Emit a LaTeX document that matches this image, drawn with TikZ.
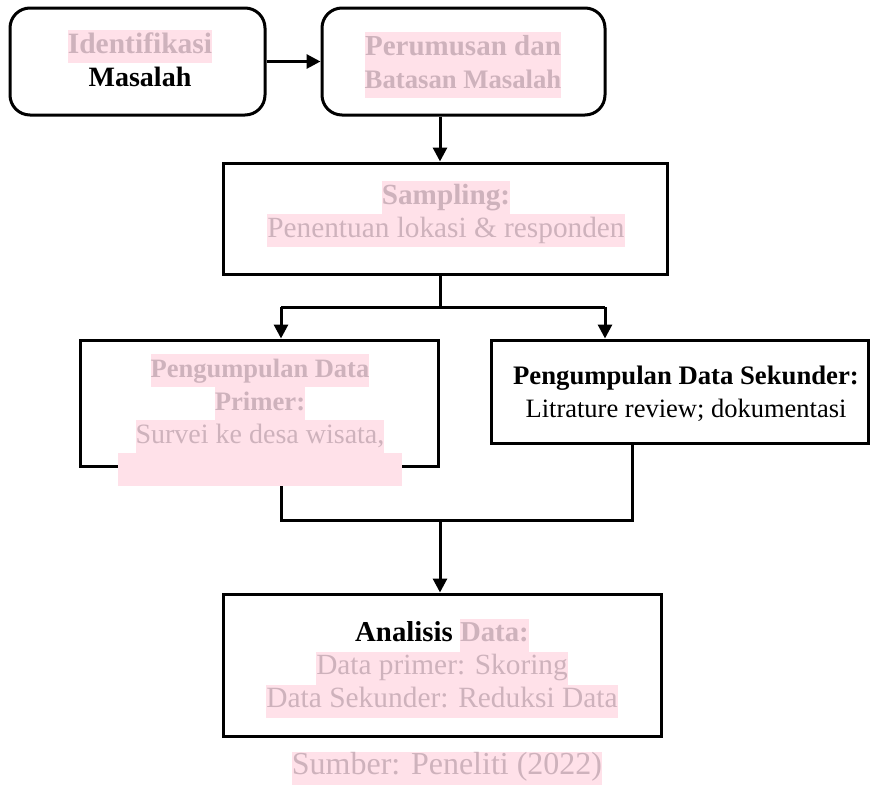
\documentclass[tikz,border=0pt]{standalone}
\usepackage{fontspec}
\setmainfont{Liberation Serif}
\usetikzlibrary{arrows.meta}
\definecolor{hlpink}{RGB}{255,225,233}
\definecolor{hltext}{RGB}{206,178,188}
\newcommand\hlx[1]{\begingroup\setlength{\fboxsep}{0pt}\colorbox{hlpink}{\color{hltext}\strut#1}\endgroup}
\newcommand\fsz[1]{\fontsize{#1}{33}\selectfont}
\tikzset{
  box/.style={draw, line width=3pt, inner sep=0pt},
  rbox/.style={box, rounded corners=20pt},
  lbl/.style={align=center, inner sep=0pt, font=\fontsize{26.7}{33}\selectfont},
  conn/.style={line width=3pt},
  arr/.style={conn, -{Triangle[width=14pt,length=14pt]}}
}
\begin{document}
\begin{tikzpicture}[x=1pt,y=-1pt]
\useasboundingbox (0,0) rectangle (871,785);
% boxes
\node[rbox, minimum width=255pt, minimum height=107pt] (b1) at (137.5,61.5) {};
\node[rbox, minimum width=283pt, minimum height=107pt] (b2) at (463.5,61.5) {};
\node[box, minimum width=444pt, minimum height=111pt] (b3) at (445,218.5) {};
\node[box, minimum width=358pt, minimum height=126pt] (b4) at (259,403) {};
\node[box, minimum width=377pt, minimum height=103pt] (b5) at (679.5,391.5) {};
\node[box, minimum width=438pt, minimum height=142pt] (b6) at (442,665) {};
% junction coordinates
\coordinate (a2) at (440,0);
\coordinate (j1) at (440,307);
\coordinate (jl) at (281,307);
\coordinate (jr) at (605,307);
\coordinate (kl) at (281,520);
\coordinate (kr) at (632,520);
\coordinate (k) at (440,520);
% connectors
\draw[arr] (b1.east) -- (b2.west);
\draw[arr] (b2.south -| a2) -- (b3.north -| a2);
\draw[conn] (b3.south -| j1) -- (j1);
\draw[conn] (jl) -- (jr);
\draw[arr] (jl) -- (b4.north -| jl);
\draw[arr] (jr) -- (b5.north -| jr);
\draw[conn] (b4.south -| kl) -- (kl) -- (kr) -- (b5.south -| kr);
\draw[arr] (k) -- (b6.north -| k);
% texts
\node[lbl] (t1) at (140,63) {\fsz{29.5}\hlx{\textbf{Identifikasi}}\\ \fsz{28}\strut\textbf{Masalah}};
\node[lbl] (t2) at (463,65) {\fsz{29}\hlx{\textbf{Perumusan dan}}\\ \hlx{\textbf{Batasan Masalah}}};
\node[lbl] (t3) at (446,214) {\fsz{29.2}\hlx{\textbf{Sampling:}}\\ \fsz{29.3}\hlx{Penentuan lokasi \& responden}};
\node[lbl] (t4) at (260,420) {\fsz{26.5}\hlx{\textbf{Pengumpulan Data}}\\ \hlx{\textbf{Primer:}}\\ \fsz{28}\hlx{Survei ke desa wisata,}\\ \hlx{\hspace{285pt}}};
\node[lbl] (t5) at (686,394) {\strut\textbf{Pengumpulan Data Sekunder:}\\ \fsz{26.5}\strut Litrature review; dokumentasi};
\node[lbl] (t6) at (442,668) {\fsz{28.8}\strut\textbf{Analisis} \hlx{\textbf{Data:}}\\ \fsz{29.3}\hlx{Data primer: Skoring}\\ \fsz{29.4}\hlx{Data Sekunder: Reduksi Data}};
\node[lbl] (t7) at (447,768) {\fsz{32}\hlx{Sumber: Peneliti (2022)}};
\end{tikzpicture}
\end{document}
